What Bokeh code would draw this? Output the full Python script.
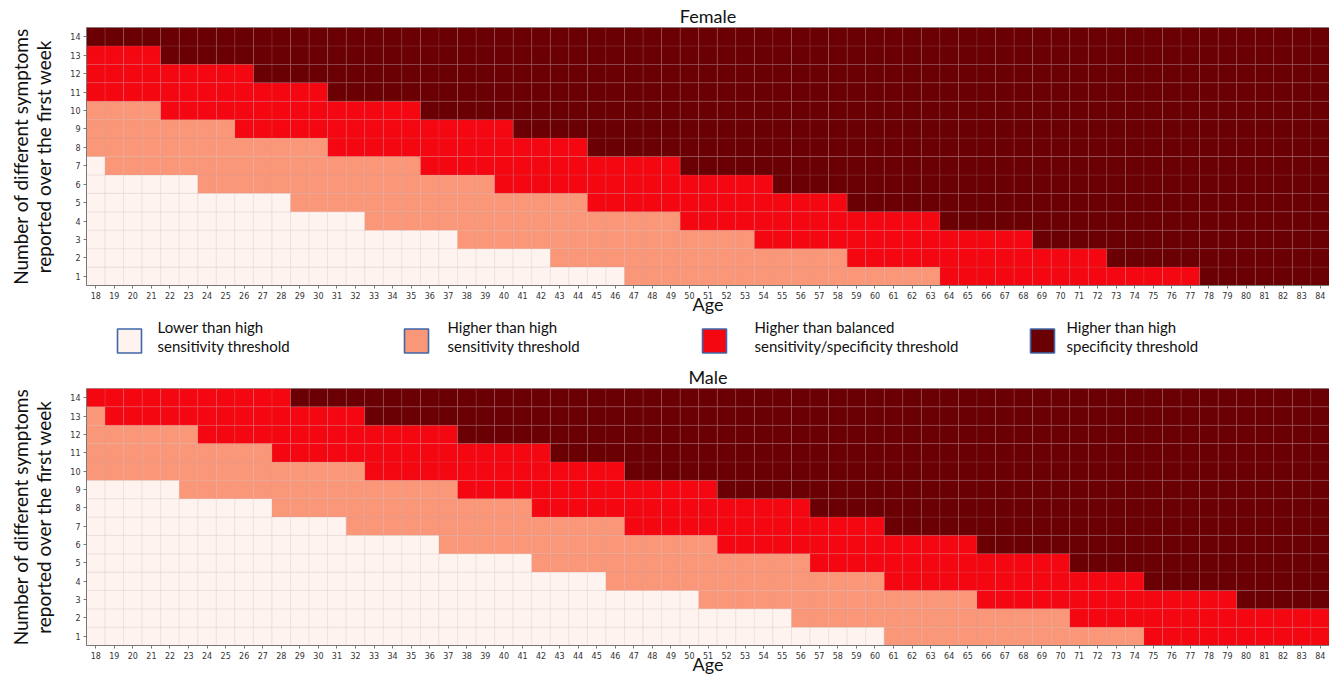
from bokeh.plotting import figure
from bokeh.layouts import column
from bokeh.models import FixedTicker, Range1d, ColumnDataSource
from bokeh.embed import file_html
from bokeh.resources import INLINE
from bokeh.core.properties import value

# ---------------- data ----------------
ages = list(range(18, 85))
symptoms = list(range(1, 15))

category_labels = [
    "Lower than high\nsensitivity threshold",
    "Higher than high\nsensitivity threshold",
    "Higher than balanced\nsensitivity/specificity threshold",
    "Higher than high\nspecificity threshold",
]
category_colors = ["#FEF3EE", "#FB9779", "#F50711", "#6A0003"]

# lowest symptom count reaching each threshold, per age 18..84 (15 = never)
female_high_sens = [8, 7, 7, 7, 7, 7, 6, 6, 6, 6, 6, 5, 5, 5, 5, 4, 4, 4, 4, 4,
                    3, 3, 3, 3, 3, 2, 2, 2, 2, 1, 1, 1, 1, 1, 1, 1, 1, 1, 1, 1,
                    1, 1, 1, 1, 1, 1, 1, 1, 1, 1, 1, 1, 1, 1, 1, 1, 1, 1, 1, 1,
                    1, 1, 1, 1, 1, 1, 1]
female_balanced = [11, 11, 11, 11, 10, 10, 10, 10, 9, 9, 9, 9, 9, 8, 8, 8, 8, 8, 7, 7,
                   7, 7, 6, 6, 6, 6, 6, 5, 5, 5, 5, 5, 4, 4, 4, 4, 3, 3, 3, 3,
                   3, 2, 2, 2, 2, 2, 1, 1, 1, 1, 1, 1, 1, 1, 1, 1, 1, 1, 1, 1,
                   1, 1, 1, 1, 1, 1, 1]
female_high_spec = [14, 14, 14, 14, 13, 13, 13, 13, 13, 12, 12, 12, 12, 11, 11, 11, 11, 11, 10, 10,
                    10, 10, 10, 9, 9, 9, 9, 8, 8, 8, 8, 8, 7, 7, 7, 7, 7, 6, 6, 6,
                    6, 5, 5, 5, 5, 5, 4, 4, 4, 4, 4, 3, 3, 3, 3, 2, 2, 2, 2, 2,
                    1, 1, 1, 1, 1, 1, 1]

male_high_sens = [10, 10, 10, 10, 10, 9, 9, 9, 9, 9, 8, 8, 8, 8, 7, 7, 7, 7, 7, 6,
                  6, 6, 6, 6, 5, 5, 5, 5, 4, 4, 4, 4, 4, 3, 3, 3, 3, 3, 2, 2,
                  2, 2, 2, 1, 1, 1, 1, 1, 1, 1, 1, 1, 1, 1, 1, 1, 1, 1, 1, 1,
                  1, 1, 1, 1, 1, 1, 1]
male_balanced = [14, 13, 13, 13, 13, 13, 12, 12, 12, 12, 11, 11, 11, 11, 11, 10, 10, 10, 10, 10,
                 9, 9, 9, 9, 8, 8, 8, 8, 8, 7, 7, 7, 7, 7, 6, 6, 6, 6, 6, 5,
                 5, 5, 5, 4, 4, 4, 4, 4, 3, 3, 3, 3, 3, 2, 2, 2, 2, 1, 1, 1,
                 1, 1, 1, 1, 1, 1, 1]
male_high_spec = [15, 15, 15, 15, 15, 15, 15, 15, 15, 15, 15, 14, 14, 14, 14, 13, 13, 13, 13, 13,
                  12, 12, 12, 12, 12, 11, 11, 11, 11, 10, 10, 10, 10, 10, 9, 9, 9, 9, 9, 8,
                  8, 8, 8, 7, 7, 7, 7, 7, 6, 6, 6, 6, 6, 5, 5, 5, 5, 4, 4, 4,
                  4, 4, 3, 3, 3, 3, 3]

FONT = "Lato"
W = 1329
LEFT, RIGHT = 86, 0
ORIGIN = 1  # where the page content starts in the picture


def build_source(t1, t2, t3):
    xs, ys, cols = [], [], []
    for i, a in enumerate(ages):
        for s in symptoms:
            cat = int(s >= t1[i]) + int(s >= t2[i]) + int(s >= t3[i])
            xs.append(a)
            ys.append(s)
            cols.append(category_colors[cat])
    return ColumnDataSource(dict(age=xs, sym=ys, color=cols))


def heatmap(title, t1, t2, t3, height, top):
    p = figure(width=W, height=height,
               x_range=Range1d(17.5, 84.5), y_range=Range1d(0.5, 14.5),
               output_backend="svg", toolbar_location=None,
               min_border_left=LEFT, min_border_right=RIGHT,
               min_border_top=top, min_border_bottom=0)
    p.rect(x="age", y="sym", width=1, height=1, source=build_source(t1, t2, t3),
           fill_color="color", line_color="#b0a0a8", line_alpha=0.22, line_width=0.7)
    p.title.text = title
    p.title.align = "center"
    p.title.text_font = FONT
    p.title.text_font_size = "18px"
    p.title.text_font_style = "normal"
    p.title.text_color = "#111111"
    p.title.standoff = 2
    p.grid.grid_line_color = None
    p.outline_line_color = "#9a9a9a"
    p.background_fill_color = "white"
    p.border_fill_color = "white"

    xa = p.xaxis[0]
    xa.ticker = FixedTicker(ticks=ages)
    xa.axis_label = "Age"
    xa.axis_label_text_font = FONT
    xa.axis_label_text_font_size = "18px"
    xa.axis_label_text_font_style = "normal"
    xa.axis_label_text_color = "#111111"
    xa.axis_label_standoff = -9
    xa.major_label_text_font = "DejaVu Sans"
    xa.major_label_text_font_size = "8px"
    xa.major_label_text_color = "#333333"
    xa.major_label_standoff = 3
    xa.major_tick_out = 3
    xa.major_tick_in = 0
    xa.minor_tick_out = 0
    xa.minor_tick_in = 0
    xa.axis_line_color = "#777777"
    xa.major_tick_line_color = "#777777"

    ya = p.yaxis[0]
    ya.ticker = FixedTicker(ticks=symptoms)
    ya.axis_label = "Number of different symptoms\nreported over the first week"
    ya.axis_label_text_font = FONT
    ya.axis_label_text_font_size = "19px"
    ya.axis_label_text_line_height = 1.0
    ya.axis_label_text_font_style = "normal"
    ya.axis_label_text_color = "#111111"
    ya.axis_label_standoff = 12
    ya.major_label_text_font = "DejaVu Sans"
    ya.major_label_text_font_size = "8px"
    ya.major_label_text_color = "#333333"
    ya.major_label_standoff = 3
    ya.major_tick_out = 3
    ya.major_tick_in = 0
    ya.minor_tick_out = 0
    ya.minor_tick_in = 0
    ya.axis_line_color = "#777777"
    ya.major_tick_line_color = "#777777"
    return p


female = heatmap("Female", female_high_sens, female_balanced, female_high_spec, 317, 27)
male = heatmap("Male", male_high_sens, male_balanced, male_high_spec, 318, 29)

# ---------------- legend strip (ranges in picture pixels) ----------------
leg_top, leg_bottom = ORIGIN + 317, ORIGIN + 317 + 42
leg = figure(width=W, height=leg_bottom - leg_top,
             x_range=Range1d(ORIGIN + LEFT, ORIGIN + W - RIGHT),
             y_range=Range1d(leg_bottom, leg_top),
             output_backend="svg", toolbar_location=None,
             x_axis_location=None, y_axis_location=None,
             min_border_left=LEFT, min_border_right=RIGHT, min_border_top=0, min_border_bottom=0)
leg.grid.grid_line_color = None
leg.outline_line_color = None
leg.background_fill_color = "white"
leg.border_fill_color = "white"

square_x = [130, 417, 715, 1043]
text_x = [158, 448, 755, 1067]
sq = ColumnDataSource(dict(x=square_x, y=[341.5] * 4, color=category_colors))
leg.rect(x="x", y="y", width=24, height=24, source=sq, fill_color="color",
         line_color="#3f67a8", line_width=1.6)
line1 = [lab.split("\n")[0] for lab in category_labels]
line2 = [lab.split("\n")[1] for lab in category_labels]
leg.text(x=text_x, y=[327.5] * 4, text=line1, text_font=value(FONT), text_font_size="15px",
         text_baseline="middle", text_align="left", text_color="#111111")
leg.text(x=text_x, y=[346] * 4, text=line2, text_font=value(FONT), text_font_size="15px",
         text_baseline="middle", text_align="left", text_color="#111111")

layout = column(female, leg, male, spacing=0)
open("out.html", "w").write(file_html(layout, INLINE))
